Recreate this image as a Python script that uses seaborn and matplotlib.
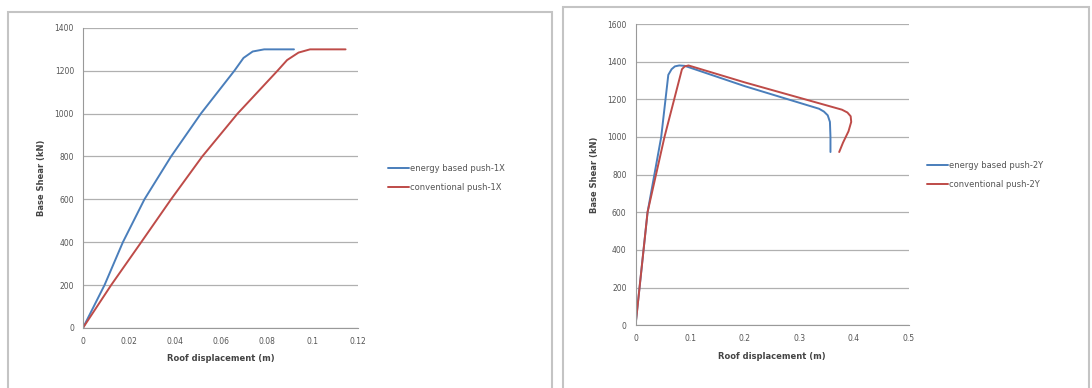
import numpy as np
import pandas as pd
import matplotlib
matplotlib.use('Agg')
import matplotlib.pyplot as plt
import seaborn as sns
from matplotlib.patches import Rectangle

# push-1X curves (roof displacement m, base shear kN)
x_energy_1x = [0, 0.0094, 0.0174, 0.0268, 0.0384, 0.0514, 0.066, 0.070, 0.074, 0.079, 0.092]
v_energy_1x = [0, 200, 400, 600, 800, 1000, 1200, 1260, 1290, 1300, 1300]
x_conv_1x = [0, 0.0123, 0.0254, 0.0384, 0.052, 0.0674, 0.0848, 0.089, 0.094, 0.099, 0.1145]
v_conv_1x = [0, 200, 400, 600, 800, 1000, 1200, 1250, 1285, 1300, 1300]

# push-2Y curves
x_energy_2y = [0, 0.022, 0.047, 0.060, 0.066, 0.072, 0.080, 0.090, 0.2, 0.336,
               0.345, 0.352, 0.356, 0.357, 0.357]
v_energy_2y = [0, 600, 1000, 1330, 1360, 1375, 1380, 1378, 1270, 1150,
               1135, 1115, 1080, 1000, 920]
x_conv_2y = [0, 0.022, 0.053, 0.085, 0.090, 0.097, 0.2, 0.378, 0.388, 0.394,
             0.395, 0.390, 0.380, 0.373]
v_conv_2y = [0, 600, 1000, 1360, 1375, 1380, 1290, 1145, 1130, 1110,
             1080, 1030, 970, 920]

labels_1x = ['energy based push-1X', 'conventional push-1X']
labels_2y = ['energy based push-2Y', 'conventional push-2Y']
colors = ['#4a7ebb', '#be4b48']


def make_df(xs, vs, names):
    parts = []
    for x, v, n in zip(xs, vs, names):
        parts.append(pd.DataFrame({'disp': x, 'shear': v, 'case': n}))
    return pd.concat(parts, ignore_index=True)


df1 = make_df([x_energy_1x, x_conv_1x], [v_energy_1x, v_conv_1x], labels_1x)
df2 = make_df([x_energy_2y, x_conv_2y], [v_energy_2y, v_conv_2y], labels_2y)

sns.set_style('white')
plt.rcParams['font.family'] = ['DejaVu Sans']

fig = plt.figure(figsize=(10.92, 3.88), dpi=100)

# panel frames
fig.patches.append(Rectangle((0.0075, -0.02), 0.498, 0.989, transform=fig.transFigure,
                             fill=False, edgecolor='#c4c4c4', lw=1.5))
fig.patches.append(Rectangle((0.5156, -0.02), 0.482, 1.002, transform=fig.transFigure,
                             fill=False, edgecolor='#c4c4c4', lw=1.5))

ax1 = fig.add_axes([0.076, 0.155, 0.252, 0.773])
ax2 = fig.add_axes([0.582, 0.162, 0.250, 0.776])


def style_axis(ax, df, names, xlim, xticks, ylim, yticks, leg_anchor):
    sns.lineplot(data=df, x='disp', y='shear', hue='case', hue_order=names,
                 palette=colors, sort=False, estimator=None, units='case',
                 lw=1.4, ax=ax)
    ax.set_xlim(*xlim)
    ax.set_ylim(*ylim)
    ax.set_xticks(xticks)
    ax.set_xticklabels([f'{t:g}' for t in xticks], fontsize=5.5, color='#555555')
    ax.set_yticks(yticks)
    ax.set_yticklabels([str(t) for t in yticks], fontsize=5.5, color='#555555')
    ax.yaxis.grid(True, color='#b0b0b0', lw=0.9)
    ax.xaxis.grid(False)
    for s in ['top', 'right']:
        ax.spines[s].set_visible(False)
    for s in ['left', 'bottom']:
        ax.spines[s].set_color('#999999')
        ax.spines[s].set_linewidth(0.8)
    ax.tick_params(axis='both', length=2.5, color='#999999', pad=4)
    ax.set_xlabel('Roof displacement (m)', fontsize=6, fontweight='bold', color='#444444', labelpad=6)
    ax.set_ylabel('Base Shear (kN)', fontsize=6, fontweight='bold', color='#444444', labelpad=6)
    ax.legend(loc='center left', bbox_to_anchor=leg_anchor, frameon=False,
              fontsize=6, handlelength=2.5, labelspacing=1.2, handletextpad=0.2,
              labelcolor='#555555')


style_axis(ax1, df1, labels_1x, (0, 0.12), [0, 0.02, 0.04, 0.06, 0.08, 0.1, 0.12],
           (0, 1400), list(range(0, 1401, 200)), (1.08, 0.5))
style_axis(ax2, df2, labels_2y, (0, 0.5), [0, 0.1, 0.2, 0.3, 0.4, 0.5],
           (0, 1600), list(range(0, 1601, 200)), (1.04, 0.5))

fig.savefig('out.png', dpi=100)
